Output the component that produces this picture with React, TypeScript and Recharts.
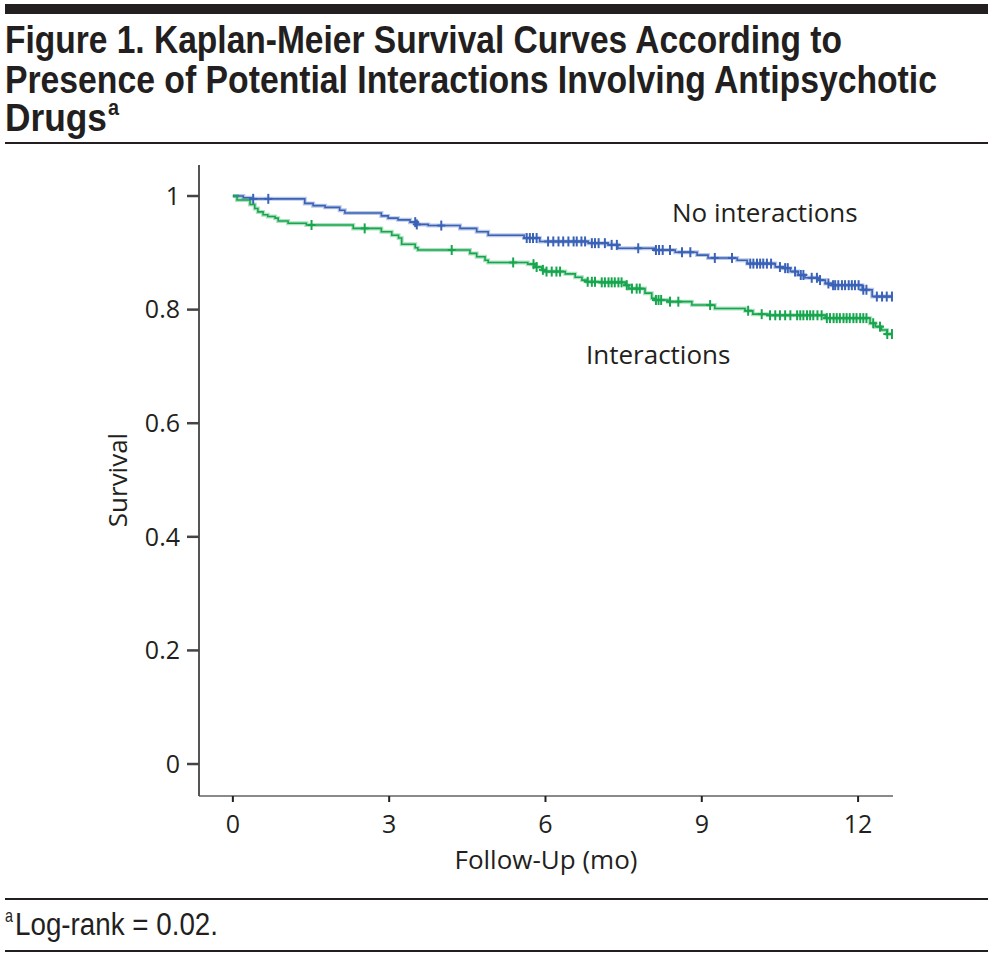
import React from "react";
import { ComposedChart, Line, Scatter, XAxis, YAxis } from "recharts";

// step points: time (months) where the survival estimate changes
const noIntTimes = [0, 0.2, 0.35, 1.38, 1.54, 1.77, 2.05, 2.15, 2.85, 2.98, 3.17, 3.4, 3.53, 3.75, 4.36, 4.68, 4.9, 5.59, 5.89, 6.82, 7.2, 7.39, 8.1, 8.49, 8.91, 9.12, 9.68, 9.87, 10.41, 10.56, 10.7, 10.85, 10.98, 11.23, 11.37, 11.5, 12.08, 12.27, 12.67];
const noIntSurv = [1, 0.997, 0.995, 0.987, 0.983, 0.98, 0.975, 0.97, 0.965, 0.961, 0.958, 0.954, 0.95, 0.948, 0.943, 0.937, 0.931, 0.926, 0.92, 0.917, 0.914, 0.908, 0.905, 0.901, 0.896, 0.891, 0.887, 0.881, 0.875, 0.873, 0.867, 0.861, 0.856, 0.852, 0.846, 0.843, 0.835, 0.823, 0.823];

const intTimes = [0, 0.08, 0.33, 0.42, 0.48, 0.58, 0.67, 0.81, 0.87, 1.06, 1.41, 2.31, 2.85, 3.05, 3.18, 3.24, 3.5, 3.55, 4.55, 4.68, 4.84, 4.9, 5.66, 5.8, 5.93, 6.0, 6.38, 6.57, 6.7, 6.8, 7.05, 7.53, 7.6, 7.91, 8.04, 8.1, 8.35, 8.81, 9.25, 9.83, 9.98, 10.27, 11.37, 12.23, 12.33, 12.45, 12.55, 12.67];
const intSurv = [1, 0.993, 0.985, 0.978, 0.972, 0.967, 0.964, 0.961, 0.956, 0.952, 0.949, 0.943, 0.937, 0.931, 0.926, 0.915, 0.909, 0.905, 0.899, 0.893, 0.887, 0.883, 0.88, 0.875, 0.87, 0.867, 0.863, 0.857, 0.852, 0.849, 0.848, 0.843, 0.837, 0.829, 0.82, 0.817, 0.814, 0.808, 0.802, 0.798, 0.792, 0.79, 0.785, 0.776, 0.77, 0.764, 0.757, 0.757];

// censored observations
const noIntCensor = [0.39, 0.68, 3.5, 3.53, 4.0, 5.64, 5.7, 5.76, 5.83, 6.05, 6.15, 6.25, 6.34, 6.44, 6.54, 6.6, 6.69, 6.76, 6.89, 6.95, 7.02, 7.14, 7.27, 7.37, 7.78, 8.12, 8.18, 8.25, 8.39, 8.62, 8.78, 9.25, 9.58, 9.93, 9.99, 10.06, 10.12, 10.18, 10.25, 10.33, 10.5, 10.6, 10.65, 10.79, 10.9, 10.95, 11.11, 11.21, 11.27, 11.43, 11.52, 11.56, 11.62, 11.69, 11.75, 11.82, 11.88, 11.94, 12.01, 12.1, 12.16, 12.36, 12.46, 12.55, 12.65];
const intCensor = [1.51, 2.53, 4.2, 5.38, 5.77, 5.83, 5.95, 6.02, 6.12, 6.21, 6.28, 6.81, 6.89, 6.95, 7.08, 7.14, 7.21, 7.27, 7.33, 7.4, 7.46, 7.56, 7.66, 7.75, 7.81, 8.12, 8.17, 8.22, 8.39, 8.55, 9.16, 9.89, 10.15, 10.31, 10.41, 10.5, 10.6, 10.7, 10.83, 10.89, 10.95, 11.02, 11.08, 11.14, 11.22, 11.3, 11.4, 11.46, 11.53, 11.59, 11.65, 11.72, 11.78, 11.84, 11.91, 11.97, 12.04, 12.1, 12.16, 12.29, 12.42, 12.56, 12.65];

const xTicks = [0, 3, 6, 9, 12];
const yTicks = [0, 0.2, 0.4, 0.6, 0.8, 1];

const titleLines = ["Figure 1. Kaplan-Meier Survival Curves According to", "Presence of Potential Interactions Involving Antipsychotic", "Drugs"];
const footnote = "Log-rank = 0.02.";

const BLUE = "#3a62b6";
const GREEN = "#17a64e";
const INK = "#231f20";
const sans = "'Open Sans', 'Noto Sans', sans-serif";
const head = "'Liberation Sans', Arial, sans-serif";
const SY = 1.15; // vertical stretch for the narrow title text

const steps = (ts: number[], ss: number[]) => ts.map((t, i) => ({ t, s: ss[i] }));
const survAt = (ts: number[], ss: number[], t: number) => {
  let v = ss[0];
  for (let i = 0; i < ts.length; i++) if (ts[i] <= t) v = ss[i];
  return v;
};
const censorPts = (cs: number[], ts: number[], ss: number[]) => cs.map((t) => ({ t, s: survAt(ts, ss, t) }));

const noIntData = steps(noIntTimes, noIntSurv);
const intData = steps(intTimes, intSurv);
const noIntMarks = censorPts(noIntCensor, noIntTimes, noIntSurv);
const intMarks = censorPts(intCensor, intTimes, intSurv);

const cross = (color: string) => (props: any) => {
  const { cx, cy } = props;
  return (
    <g stroke={color} strokeWidth={2}>
      <line x1={cx - 4} x2={cx + 4} y1={cy} y2={cy} />
      <line x1={cx} x2={cx} y1={cy - 5} y2={cy + 5} />
    </g>
  );
};

const label = (text: string, left: number, top: number, extra: React.CSSProperties = {}) => (
  <div style={{ position: "absolute", left, top, fontFamily: sans, fontSize: 26, lineHeight: "32px", whiteSpace: "nowrap", color: INK, ...extra }}>
    {text}
  </div>
);

export default function App() {
  return (
    <div style={{ position: "absolute", left: 0, top: 0, width: 993, height: 960, background: "#fff" }}>
      <div style={{ position: "absolute", left: 0, top: 0 }}>
        <ComposedChart width={993} height={960} margin={{ top: 165, right: 100, bottom: 134, left: 139 }}>
          <XAxis
            dataKey="t"
            type="number"
            domain={[-0.65, 12.67]}
            ticks={xTicks}
            allowDataOverflow
            height={30}
            tickSize={6}
            tickMargin={13}
            axisLine={{ stroke: "#8a8a8a", strokeWidth: 2 }}
            tickLine={{ stroke: INK, strokeWidth: 2 }}
            tick={{ fill: INK, fontSize: 25, fontFamily: sans }}
          />
          <YAxis
            dataKey="s"
            type="number"
            domain={[-0.0563, 1.0546]}
            ticks={yTicks}
            allowDataOverflow
            width={60}
            tickSize={12}
            tickMargin={7}
            axisLine={{ stroke: "#555", strokeWidth: 2 }}
            tickLine={{ stroke: "#444", strokeWidth: 2.5 }}
            tick={{ fill: INK, fontSize: 25, fontFamily: sans }}
          />
          <Line data={noIntData} dataKey="s" type="stepAfter" stroke={BLUE} strokeOpacity={0.35} strokeWidth={4} dot={false} isAnimationActive={false} />
          <Line data={intData} dataKey="s" type="stepAfter" stroke={GREEN} strokeOpacity={0.35} strokeWidth={4} dot={false} isAnimationActive={false} />
          <Line data={noIntData} dataKey="s" type="stepAfter" stroke={BLUE} strokeWidth={1.6} dot={false} isAnimationActive={false} />
          <Line data={intData} dataKey="s" type="stepAfter" stroke={GREEN} strokeWidth={1.6} dot={false} isAnimationActive={false} />
          <Scatter data={noIntMarks} dataKey="s" shape={cross(BLUE)} isAnimationActive={false} />
          <Scatter data={intMarks} dataKey="s" shape={cross(GREEN)} isAnimationActive={false} />
        </ComposedChart>
      </div>

      {/* condensed title and footnote, fitted to the reference widths */}
      <svg width={993} height={960} style={{ position: "absolute", left: 0, top: 0, pointerEvents: "none" }}>
        <rect x={5} y={4} width={983} height={10} fill={INK} />
        <g fontFamily={head} fontWeight={700} fontSize={33} fill={INK} transform={`scale(1, ${SY})`}>
          <text x={5} y={53 / SY} textLength={837} lengthAdjust="spacingAndGlyphs">{titleLines[0]}</text>
          <text x={5} y={93 / SY} textLength={932} lengthAdjust="spacingAndGlyphs">{titleLines[1]}</text>
          <text x={5} y={131 / SY} textLength={102} lengthAdjust="spacingAndGlyphs">{titleLines[2]}</text>
          <text x={108} y={115 / SY} fontSize={19} textLength={11} lengthAdjust="spacingAndGlyphs">a</text>
        </g>
        <rect x={5} y={142} width={983} height={2} fill={INK} />
        <rect x={5} y={898} width={983} height={2} fill={INK} />
        <g fontFamily={head} fill={INK}>
          <text x={5} y={922} fontSize={19} textLength={8} lengthAdjust="spacingAndGlyphs">a</text>
          <text x={15} y={935} fontSize={31} textLength={203} lengthAdjust="spacingAndGlyphs">{footnote}</text>
        </g>
        <rect x={5} y={950} width={983} height={2} fill={INK} />
      </svg>

      {label("No interactions", 672, 196)}
      {label("Interactions", 586, 338)}
      {label("Survival", 117, 480, { transform: "translate(-50%, -50%) rotate(-90deg)" })}
      {label("Follow-Up (mo)", 546, 859, { transform: "translate(-50%, -50%)" })}
    </div>
  );
}
